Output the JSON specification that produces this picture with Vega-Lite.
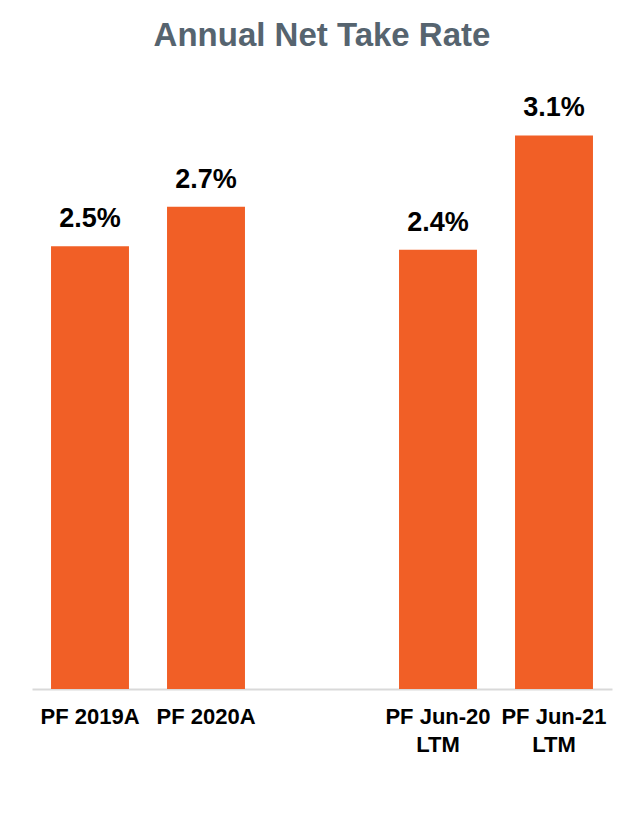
{
  "$schema": "https://vega.github.io/schema/vega-lite/v6.json",
  "autosize": "none",
  "width": 580,
  "height": 625,
  "padding": {"top": 64, "left": 32, "right": 32, "bottom": 138},
  "background": "white",
  "title": {
    "text": "Annual Net Take Rate",
    "fontSize": 33,
    "font": "Liberation Sans",
    "fontWeight": "bold",
    "color": "#56646f",
    "anchor": "middle",
    "offset": 11
  },
  "data": {
    "values": [
      {"period": "PF 2019A", "value": 2.48, "label": "2.5%"},
      {"period": "PF 2020A", "value": 2.7, "label": "2.7%"},
      {"period": "PF Jun-20|LTM", "value": 2.46, "label": "2.4%"},
      {"period": "PF Jun-21|LTM", "value": 3.1, "label": "3.1%"}
    ]
  },
  "encoding": {
    "x": {
      "field": "period",
      "type": "nominal",
      "sort": null,
      "scale": {
        "domain": ["PF 2019A", "PF 2020A", "", "PF Jun-20|LTM", "PF Jun-21|LTM"],
        "paddingInner": 0.328,
        "paddingOuter": 0.164
      },
      "axis": {
        "title": null,
        "labelAngle": 0,
        "labelExpr": "split(datum.label, '|')",
        "labelFont": "Liberation Sans",
        "labelFontWeight": "bold",
        "labelFontSize": 22,
        "labelColor": "#000000",
        "labelLineHeight": 28,
        "labelPadding": 17,
        "ticks": false,
        "domainColor": "#d9d9d9",
        "domainWidth": 2,
        "grid": false
      }
    },
    "y": {
      "field": "value",
      "type": "quantitative",
      "scale": {"domain": [0, 3.5]},
      "axis": null
    }
  },
  "layer": [
    {"mark": {"type": "bar", "color": "#f15f26"}},
    {
      "mark": {
        "type": "text",
        "baseline": "alphabetic",
        "dy": -19,
        "font": "Liberation Sans",
        "fontWeight": "bold",
        "fontSize": 27,
        "color": "#000000"
      },
      "encoding": {"text": {"field": "label"}}
    }
  ],
  "config": {"view": {"stroke": null}}
}
